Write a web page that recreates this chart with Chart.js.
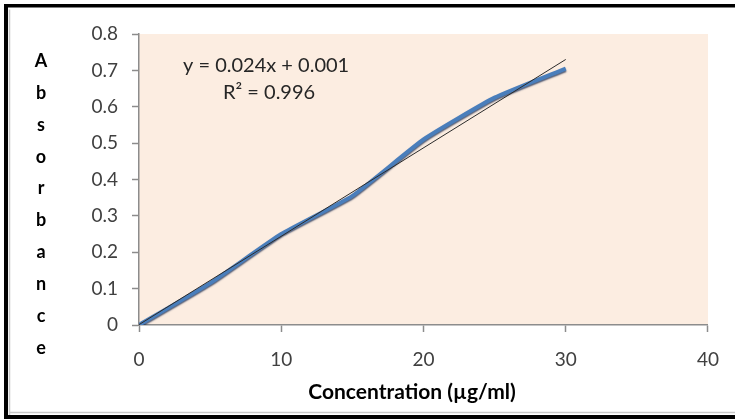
<!DOCTYPE html>
<html>
<head>
<meta charset="utf-8">
<script src="https://cdn.jsdelivr.net/npm/chart.js@4.4.1/dist/chart.umd.min.js"></script>
<style>
  html, body { margin: 0; padding: 0; background: #fff; }
  #wrap { width: 735px; height: 419px; }
</style>
</head>
<body>
<div id="wrap"><canvas id="canvas-1" width="735" height="419"></canvas></div>
<script>
// readings
const concentration = [0, 5, 10, 15, 20, 25, 30];
const absorbance = [0, 0.115, 0.25, 0.355, 0.51, 0.625, 0.705];
// linear trendline ends, as drawn
const trendX = [0, 30];
const trendY = [0.001, 0.73];
const xTicks = [0, 10, 20, 30, 40];
const yTicks = [0, 0.1, 0.2, 0.3, 0.4, 0.5, 0.6, 0.7, 0.8];
const equationText = ['y = 0.024x + 0.001', 'R\u00b2 = 0.996'];
const yTitle = 'Absorbance';
const xTitle = 'Concentration (\u00b5g/ml)';

const FONT = 'Lato, "Open Sans", sans-serif';
const AXIS_GRAY = '#8c8c8c';

const framePlugin = {
  id: 'frame',
  beforeDraw(chart) {
    const ctx = chart.ctx;
    const a = chart.chartArea;
    ctx.save();
    ctx.fillStyle = '#fff';
    ctx.fillRect(0, 0, chart.width, chart.height);
    ctx.fillStyle = '#fcede1';
    ctx.fillRect(a.left, a.top, a.right - a.left, a.bottom - a.top);
    ctx.restore();
  },
  afterDraw(chart) {
    const ctx = chart.ctx;
    const a = chart.chartArea;
    ctx.save();
    // light inner frame
    ctx.strokeStyle = '#c8c8c8';
    ctx.lineWidth = 1.5;
    ctx.beginPath();
    ctx.moveTo(9.5, 419);
    ctx.lineTo(9.5, 9.5);
    ctx.moveTo(9.5, 412.5);
    ctx.lineTo(735, 412.5);
    ctx.stroke();
    // black outer frame (top, left, bottom)
    ctx.fillStyle = '#000';
    ctx.fillRect(4, 4, 731, 3.5);
    ctx.fillRect(4, 4, 4, 415);
    ctx.fillRect(4, 415, 731, 4);

    // stacked y title
    ctx.fillStyle = '#000';
    ctx.font = 'bold 18px ' + FONT;
    ctx.textAlign = 'center';
    ctx.textBaseline = 'middle';
    const chars = yTitle.split('');
    chars.forEach((c, i) => ctx.fillText(c, 41, 61 + i * 31.9));

    // x title, sits a little left of the plot centre
    ctx.font = 'bold 21px ' + FONT;
    ctx.fillText(xTitle, 412, 392);

    // trendline equation
    ctx.fillStyle = '#262626';
    ctx.font = '20px ' + FONT;
    ctx.textAlign = 'left';
    ctx.fillText(equationText[0], a.left + 44, 66);
    ctx.fillText(equationText[1], a.left + 84, 93);
    ctx.restore();
  }
};

const shadowPlugin = {
  id: 'lineShadow',
  beforeDatasetDraw(chart, args) {
    if (args.index !== 1) return;
    const ctx = chart.ctx;
    ctx.save();
    ctx.shadowColor = 'rgba(10, 30, 70, 0.7)';
    ctx.shadowBlur = 1.5;
    ctx.shadowOffsetX = 0;
    ctx.shadowOffsetY = 1.5;
  },
  afterDatasetDraw(chart, args) {
    if (args.index !== 1) return;
    chart.ctx.restore();
  }
};

const calibChart = new Chart(document.getElementById('canvas-1'), {
  type: 'scatter',
  data: {
    datasets: [{
      label: 'Linear',
      data: trendX.map((x, i) => ({ x: x, y: trendY[i] })),
      showLine: true,
      borderColor: '#2b2b2b',
      borderWidth: 1,
      pointRadius: 0,
      order: 0
    }, {
      label: 'Absorbance',
      data: concentration.map((x, i) => ({ x: x, y: absorbance[i] })),
      showLine: true,
      borderColor: '#4a7ebb',
      borderWidth: 4,
      tension: 0.15,
      pointRadius: 0,
      order: 1
    }]
  },
  options: {
    responsive: false,
    animation: false,
    events: [],
    layout: { padding: { left: 0, right: 26, top: 34, bottom: 0 } },
    plugins: {
      legend: { display: false },
      tooltip: { enabled: false }
    },
    scales: {
      x: {
        type: 'linear',
        min: 0,
        max: 40,
        afterBuildTicks(axis) { axis.ticks = xTicks.map(v => ({ value: v })); },
        afterFit(axis) { axis.height = 94; },
        border: { display: true, color: AXIS_GRAY, width: 1.5 },
        grid: { drawOnChartArea: false, drawTicks: true, tickLength: 7, color: AXIS_GRAY, tickWidth: 1.5 },
        ticks: { color: '#404040', font: { family: FONT, size: 19 }, padding: 16, maxRotation: 0 }
      },
      y: {
        type: 'linear',
        min: 0,
        max: 0.8,
        afterBuildTicks(axis) { axis.ticks = yTicks.map(v => ({ value: v })); },
        afterFit(axis) { axis.width = 139; },
        border: { display: true, color: AXIS_GRAY, width: 1.5 },
        grid: { drawOnChartArea: false, drawTicks: true, tickLength: 7, color: AXIS_GRAY, tickWidth: 1.5 },
        ticks: {
          color: '#404040',
          font: { family: FONT, size: 19 },
          padding: 14,
          callback: v => (v === 0 ? '0' : v.toFixed(1))
        }
      }
    }
  },
  plugins: [framePlugin, shadowPlugin]
});
</script>
</body>
</html>
